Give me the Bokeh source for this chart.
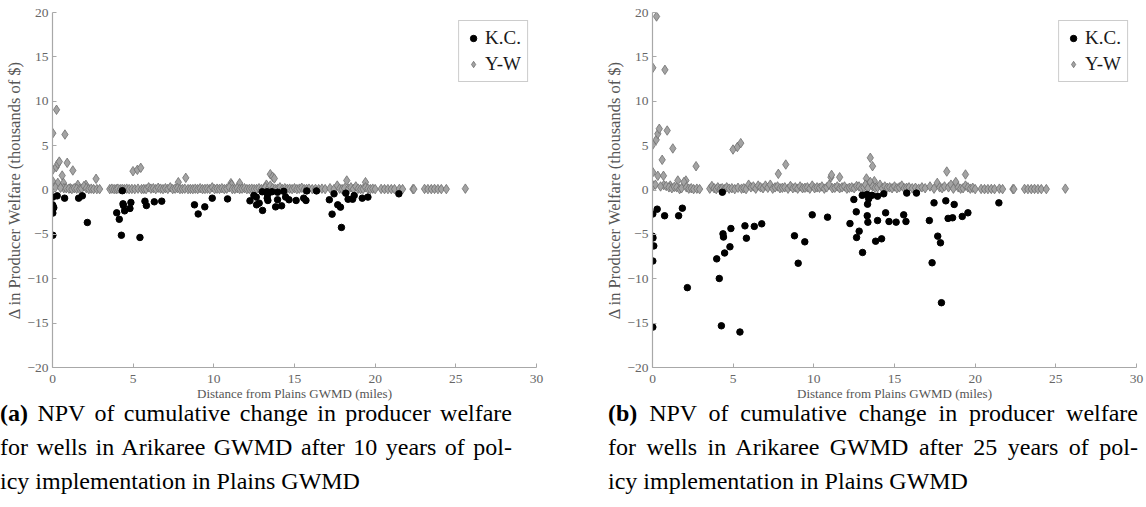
from bokeh.plotting import figure
from bokeh.models import Range1d, SingleIntervalTicker, Legend, LegendItem, Div, ColumnDataSource
from bokeh.layouts import column, row
from bokeh.embed import file_html
from bokeh.resources import INLINE

# ---------------- data ----------------
# K.C. wells: distance (miles), change after 10 years, change after 25 years (thousands of $)
kc_x = [0.02, 0.0, 0.03, 0.08, 0.02, 0.02, 0.29, 0.75, 1.62, 1.85,
        2.16, 3.98, 4.14, 4.27, 4.33, 4.37, 4.40, 4.47, 4.8, 4.86,
        5.42, 5.73, 5.82, 6.31, 6.77, 8.8, 9.03, 9.44, 9.9, 10.85,
        12.24, 12.48, 12.63, 12.65, 12.81, 13.02, 13.0, 13.3, 13.31, 13.35,
        13.33, 13.4, 13.6, 13.83, 13.95, 13.95, 14.2, 14.33, 14.45, 14.66,
        15.1, 15.57, 15.71, 15.76, 16.36, 17.16, 17.33, 17.45, 17.68, 17.85,
        17.91, 18.18, 18.32, 18.6, 18.7, 19.2, 19.55, 21.47]
kc_10 = [-0.8, -1.67, -1.8, -2.0, -2.6, -5.1, -0.66, -0.92, -0.92, -0.66,
         -3.66, -2.57, -3.3, -5.1, -0.08, -1.56, -1.75, -2.35, -2.08, -1.41,
         -5.35, -1.26, -1.75, -1.33, -1.26, -1.67, -2.7, -1.9, -0.92, -1.0,
         -1.22, -0.62, -0.8, -1.67, -1.48, -2.3, -0.2, -0.2, -0.92, -1.18,
         -0.5, -0.3, -0.2, -1.9, -1.1, -0.25, -1.78, -0.15, -0.8, -1.1,
         -1.18, -0.92, -1.18, -0.1, -0.1, -1.1, -2.72, -0.43, -1.67, -1.93,
         -4.22, -0.36, -1.04, -1.04, -0.62, -0.92, -0.8, -0.43]
kc_25 = [-2.7, -5.2, -5.4, -6.3, -8.0, -15.45, -2.16, -2.9, -2.9, -2.05,
         -11.0, -7.76, -9.97, -15.3, -0.25, -4.94, -5.3, -7.1, -6.4, -4.34,
         -16.0, -4.04, -5.43, -4.1, -3.81, -5.16, -8.25, -5.84, -2.8, -3.06,
         -3.78, -1.07, -2.46, -5.35, -4.64, -7.04, -0.6, -0.5, -2.9, -3.63,
         -1.6, -0.99, -0.6, -5.77, -3.44, -0.7, -5.5, -0.43, -2.57, -3.55,
         -3.62, -2.8, -3.55, -0.35, -0.35, -3.44, -8.2, -1.45, -5.2, -5.95,
         -12.7, -1.22, -3.2, -3.13, -1.63, -2.98, -2.57, -1.45]

# Y-W wells with noticeable gains
yw_out_x = [0.02, 0.25, 0.77, 0.02, 0.23, 0.33, 0.42, 0.91, 1.26, 0.6,
            0.02, 0.33, 0.68, 0.7, 1.1, 1.57, 2.07, 2.7, 4.99, 5.26,
            5.47, 7.8, 8.26, 11.06, 11.1, 11.6, 13.26, 13.5, 13.64, 13.75,
            18.24, 19.4]
yw_out_10 = [6.4, 9.04, 6.25, 2.3, 2.57, 2.95, 3.2, 3.06, 2.2, 1.63,
             0.96, 0.8, 0.8, 0.2, 0.2, 0.58, 0.58, 1.26, 2.12, 2.27,
             2.5, 0.88, 1.37, 0.77, 0.6, 0.77, 0.6, 1.78, 1.5, 1.3,
             1.07, 0.88]
yw_out_25 = [13.77, 19.55, 13.54, 5.13, 5.65, 6.33, 6.9, 6.7, 4.68, 3.4,
             2.0, 1.6, 1.6, 0.55, 0.5, 1.07, 1.07, 2.68, 4.56, 4.84,
             5.28, 1.82, 2.87, 1.44, 1.7, 1.44, 1.3, 3.63, 2.68, 1.0,
             2.08, 1.75]

# Y-W wells with small gains (the band just above zero)
yw_base_x = [0.05, 0.18, 0.5, 0.85, 1.02, 1.2, 1.35, 1.5, 1.68, 1.8,
             1.95, 2.1, 2.25, 2.4, 2.55, 2.75, 2.92, 3.55, 3.68, 3.82,
             3.95, 4.05, 4.2, 4.32, 4.45, 4.6, 4.75, 4.92, 5.1, 5.3,
             5.52, 5.66, 5.8, 5.96, 6.1, 6.25, 6.4, 6.55, 6.7, 6.85,
             7.0, 7.15, 7.3, 7.45, 7.6, 7.75, 7.9, 8.05, 8.2, 8.4,
             8.55, 8.7, 8.85, 9.0, 9.15, 9.3, 9.45, 9.6, 9.75, 9.9,
             10.05, 10.2, 10.35, 10.5, 10.65, 10.8, 10.95, 11.15, 11.3, 11.45,
             11.6, 11.75, 11.9, 12.05, 12.2, 12.35, 12.5, 12.65, 12.8, 12.95,
             13.1, 13.2, 13.35, 13.5, 13.65, 13.8, 13.95, 14.1, 14.25, 14.4,
             14.55, 14.7, 14.85, 15.0, 15.15, 15.3, 15.45, 15.6, 15.75, 15.9,
             16.1, 16.3, 16.5, 16.7, 16.9, 17.2, 17.45, 17.65, 17.8, 17.95,
             18.1, 18.35, 18.5, 18.65, 18.8, 18.95, 19.1, 19.25, 19.4, 19.55,
             19.7, 19.85, 20.0, 20.37, 20.58, 20.79, 21.0, 21.2, 21.5, 21.7,
             22.34, 22.4, 23.06, 23.27, 23.48, 23.68, 23.89, 24.1, 24.41, 25.59]
yw_base_10 = [0.2, 0.3, 0.25, 0.2, 0.15, 0.1, 0.2, 0.15, 0.1, 0.15,
              0.45, 0.2, 0.1, 0.15, 0.1, 0.1, 0.1, 0.1, 0.15, 0.1,
              0.1, 0.15, 0.1, 0.12, 0.1, 0.15, 0.1, 0.12, 0.1, 0.15,
              0.1, 0.12, 0.1, 0.3, 0.15, 0.2, 0.1, 0.25, 0.15, 0.1,
              0.2, 0.12, 0.3, 0.1, 0.15, 0.2, 0.1, 0.12, 0.15, 0.1,
              0.12, 0.1, 0.15, 0.1, 0.2, 0.1, 0.12, 0.15, 0.1, 0.3,
              0.1, 0.15, 0.12, 0.2, 0.1, 0.15, 0.3, 0.1, 0.12, 0.2,
              0.1, 0.15, 0.2, 0.1, 0.12, 0.15, 0.1, 0.12, 0.2, 0.1,
              0.15, 0.3, 0.1, 0.5, 0.2, 0.12, 0.15, 0.3, 0.1, 0.2,
              0.12, 0.15, 0.1, 0.2, 0.1, 0.15, 0.25, 0.1, 0.12, 0.15,
              0.1, 0.12, 0.1, 0.15, 0.1, 0.2, 0.1, 0.5, 0.15, 0.1,
              0.2, 0.15, 0.3, 0.1, 0.4, 0.15, 0.1, 0.12, 0.3, 0.15,
              0.1, 0.15, 0.1, 0.12, 0.1, 0.1, 0.1, 0.1, 0.12, 0.1,
              0.1, 0.1, 0.12, 0.1, 0.1, 0.12, 0.1, 0.1, 0.1, 0.15]
yw_base_25 = [0.5, 0.6, 0.4, 0.45, 0.3, 0.2, 0.35, 0.3, 0.1, 0.2,
              0.9, 0.3, 0.15, 0.2, 0.1, 0.15, 0.1, 0.15, 0.45, 0.2,
              0.1, 0.3, 0.15, 0.2, 0.1, 0.3, 0.15, 0.2, 0.1, 0.25,
              0.15, 0.2, 0.1, 0.6, 0.3, 0.4, 0.15, 0.5, 0.3, 0.2,
              0.5, 0.25, 0.6, 0.15, 0.3, 0.4, 0.2, 0.25, 0.3, 0.15,
              0.45, 0.2, 0.3, 0.15, 0.4, 0.2, 0.25, 0.3, 0.15, 0.5,
              0.2, 0.3, 0.25, 0.4, 0.15, 0.3, 0.6, 0.2, 0.25, 0.4,
              0.2, 0.3, 0.4, 0.15, 0.25, 0.3, 0.2, 0.45, 0.4, 0.2,
              0.3, 0.6, 0.2, 0.9, 0.4, 0.25, 0.3, 0.6, 0.2, 0.4,
              0.25, 0.3, 0.2, 0.4, 0.2, 0.3, 0.5, 0.2, 0.25, 0.3,
              0.2, 0.25, 0.15, 0.3, 0.2, 0.4, 0.15, 0.8, 0.3, 0.2,
              0.4, 0.3, 0.6, 0.15, 0.9, 0.3, 0.15, 0.2, 0.5, 0.3,
              0.15, 0.25, 0.1, 0.12, 0.1, 0.1, 0.12, 0.1, 0.15, 0.1,
              0.1, 0.1, 0.12, 0.1, 0.1, 0.12, 0.1, 0.1, 0.1, 0.15]

series_labels = ["K.C.", "Y-W"]
x_title = "Distance from Plains GWMD (miles)"
y_title = "\u0394 in Producer Welfare (thousands of $)"

SERIF = "Liberation Serif"
AXIS_GRAY = "#a8a8a8"


def make_panel(border_right, kc_vals, yw_vals):
    p = figure(frame_width=484, frame_height=355, x_range=Range1d(0, 30), y_range=Range1d(-20, 20),
               output_backend="svg", toolbar_location=None,
               min_border_left=52, min_border_right=border_right,
               min_border_top=12, min_border_bottom=34)
    p.outline_line_color = None
    p.xgrid.visible = False
    p.ygrid.visible = False
    p.background_fill_color = "white"
    p.border_fill_color = "white"

    for ax in (p.xaxis[0], p.yaxis[0]):
        ax.axis_line_color = AXIS_GRAY
        ax.axis_line_width = 1.2
        ax.major_tick_line_color = AXIS_GRAY
        ax.major_tick_in = 4
        ax.major_tick_out = 0
        ax.minor_tick_line_color = None
        ax.major_label_text_font = SERIF
        ax.major_label_text_font_size = "13.5px"
        ax.major_label_text_color = "#666666"
        ax.axis_label_text_font = SERIF
        ax.axis_label_text_font_style = "normal"
        ax.axis_label_text_color = "#555555"
    p.xaxis.ticker = SingleIntervalTicker(interval=5)
    p.yaxis.ticker = SingleIntervalTicker(interval=5)
    p.xaxis.axis_label = x_title
    p.yaxis.axis_label = y_title
    p.xaxis.axis_label_text_font_size = "13px"
    p.yaxis.axis_label_text_font_size = "16.5px"
    p.xaxis.major_label_standoff = 3
    p.yaxis.major_label_standoff = 0
    p.xaxis.axis_label_standoff = 0
    p.yaxis.axis_label_standoff = 0

    yw_src = ColumnDataSource(dict(x=yw_out_x + yw_base_x, y=yw_vals))
    kc_src = ColumnDataSource(dict(x=kc_x, y=kc_vals))
    r_yw = p.scatter("x", "y", source=yw_src, marker="diamond", size=9.5,
                     fill_color="#a3a3a3", line_color="#6f6f6f", line_width=0.8)
    r_kc = p.scatter("x", "y", source=kc_src, marker="circle", size=6.5,
                     fill_color="black", line_color="black")

    legend = Legend(items=[LegendItem(label=series_labels[0], renderers=[r_kc]),
                           LegendItem(label=series_labels[1], renderers=[r_yw])],
                    location="top_right")
    legend.margin = 8
    legend.padding = 6
    legend.spacing = 4
    legend.glyph_width = 16
    legend.glyph_height = 20
    legend.label_height = 20
    legend.label_standoff = 4
    legend.label_text_font = SERIF
    legend.label_text_font_size = "19px"
    legend.label_text_color = "#1a1a1a"
    legend.border_line_color = "#999999"
    legend.border_line_width = 1
    legend.background_fill_alpha = 1.0
    p.add_layout(legend)
    return p


p1 = make_panel(64, kc_10, yw_out_10 + yw_base_10)
p2 = make_panel(10, kc_25, yw_out_25 + yw_base_25)

cap_a = ("<b>(a)</b> NPV of cumulative change in producer welfare",
         "for wells in Arikaree GWMD after 10 years of pol-",
         "icy implementation in Plains GWMD")
cap_b = ("<b>(b)</b> NPV of cumulative change in producer welfare",
         "for wells in Arikaree GWMD after 25 years of pol-",
         "icy implementation in Plains GWMD")


def cap_html(lines, left, width):
    l1 = f"<div style='text-align:justify;text-align-last:justify;white-space:nowrap;'>{lines[0]}</div>"
    l2 = f"<div style='text-align:justify;text-align-last:justify;white-space:nowrap;'>{lines[1]}</div>"
    l3 = f"<div style='white-space:nowrap;'>{lines[2]}</div>"
    return (f"<div style='position:absolute;left:{left}px;top:-7px;width:{width}px;"
            f"line-height:34px;'>{l1}{l2}{l3}</div>")


html = ("<div style=\"position:relative;width:1146px;height:104px;overflow:visible;"
        "font-family:'Liberation Serif';font-size:24px;color:#000;\">"
        + cap_html(cap_a, 0, 512) + cap_html(cap_b, 608, 530) + "</div>")
div = Div(text=html, width=1146, height=104, margin=(0, 0, 0, 0))

layout = column(row(p1, p2, spacing=0), div, spacing=0)

with open("out.html", "w") as f:
    f.write(file_html(layout, INLINE))
